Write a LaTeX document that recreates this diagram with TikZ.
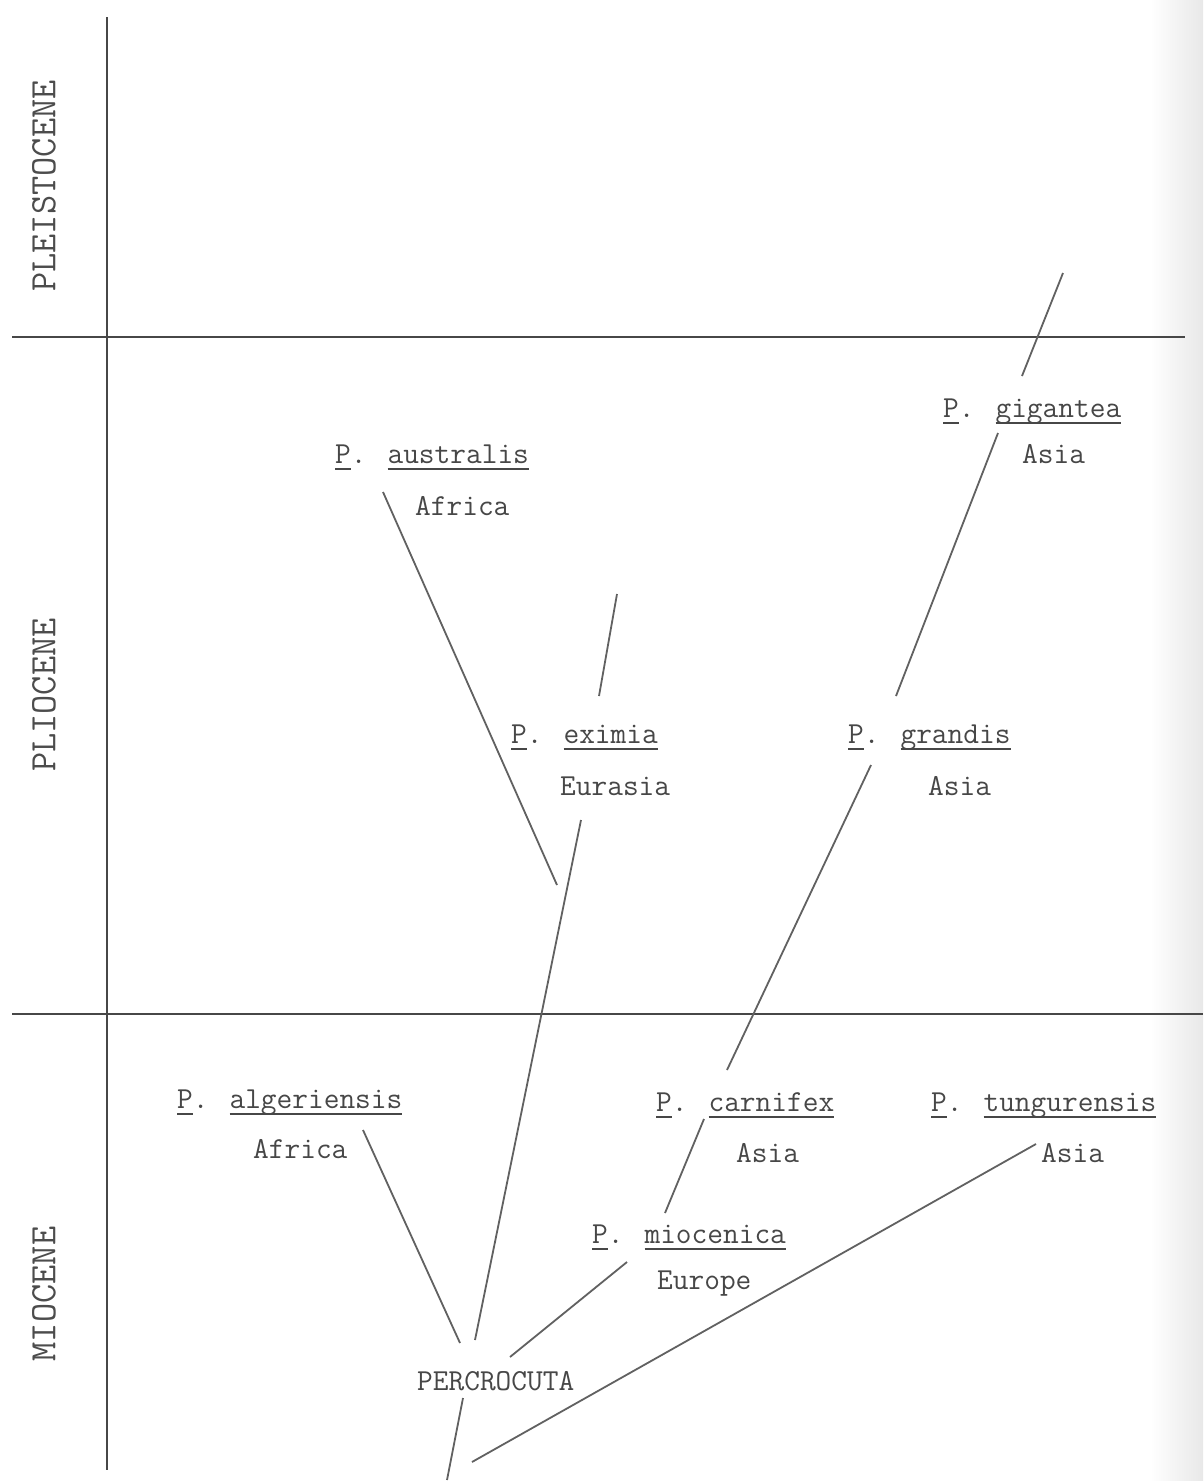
\documentclass[tikz,border=0pt]{standalone}
\usetikzlibrary{calc}
\newcommand\tul[1]{\setbox0=\hbox{#1}\rlap{\rule[-6.5pt]{\wd0}{1.6pt}}\box0}
\tikzset{
  lbl/.style={anchor=base west, inner sep=0pt, text=black!72, font=\ttfamily\fontsize{30.5}{36}\selectfont},
  era/.style={rotate=90, inner sep=0pt, text=black!70, font=\ttfamily\fontsize{37.3}{40}\selectfont},
  gridline/.style={draw=black!72, line width=1.7pt},
  brline/.style={draw=black!62, line width=1.8pt},
}
\begin{document}
\begin{tikzpicture}[x=1pt,y=-1pt]
\useasboundingbox (0,0) rectangle (1203,1481);
\fill[white] (0,0) rectangle (1203,1481);
\shade[left color=white, right color=black!9] (1150,0) rectangle (1203,1481);

% axes and epoch boundaries
\coordinate (axT) at (107,17);
\coordinate (axB) at (107,1470);
\coordinate (h1L) at (12,337);
\coordinate (h1R) at (1185,337);
\coordinate (h2L) at (12,1014);
\coordinate (h2R) at (1203,1014);
\draw[gridline] (axT) -- (axB);
\draw[gridline] (h1L) -- (h1R);
\draw[gridline] (h2L) -- (h2R);

% epoch labels
\node[era] (pleis) at (44,186) {PLEISTOCENE};
\node[era] (plio) at (44,695) {PLIOCENE};
\node[era] (mio) at (44,1294) {MIOCENE};

% species labels
\node[lbl] (austN) at (335,463) {\tul{P}. \tul{australis}};
\node[lbl] (austR) at (415,515) {Africa};
\node[lbl] (gigN) at (943,417) {\tul{P}. \tul{gigantea}};
\node[lbl] (gigR) at (1022,463) {Asia};
\node[lbl] (exN) at (511,743) {\tul{P}. \tul{eximia}};
\node[lbl] (exR) at (560,795) {Eurasia};
\node[lbl] (grN) at (848,743) {\tul{P}. \tul{grandis}};
\node[lbl] (grR) at (928,795) {Asia};
\node[lbl] (algN) at (177,1108) {\tul{P}. \tul{algeriensis}};
\node[lbl] (algR) at (253,1158) {Africa};
\node[lbl] (carN) at (656,1111) {\tul{P}. \tul{carnifex}};
\node[lbl] (carR) at (736,1162) {Asia};
\node[lbl] (tunN) at (931,1111) {\tul{P}. \tul{tungurensis}};
\node[lbl] (tunR) at (1041,1162) {Asia};
\node[lbl] (mioN) at (592,1243) {\tul{P}. \tul{miocenica}};
\node[lbl] (mioR) at (657,1289) {Europe};
\node[lbl] (perc) at (417,1390) {PERCROCUTA};

% branch end points
\coordinate (gigTop) at (1063,273);
\coordinate (gigBot) at (1022,376);
\coordinate (gig2Top) at (998,433);
\coordinate (gig2Bot) at (896,696);
\coordinate (grTop) at (871,765);
\coordinate (grBot) at (727,1070);
\coordinate (carTop) at (704,1119);
\coordinate (carBot) at (665,1213);
\coordinate (mioTop) at (627,1262);
\coordinate (mioBot) at (510,1357);
\coordinate (tunTop) at (1036,1144);
\coordinate (tunBot) at (472,1462);
\coordinate (algTop) at (363,1130);
\coordinate (algBot) at (460,1343);
\coordinate (exUpTop) at (617,594);
\coordinate (exUpBot) at (599,696);
\coordinate (exTop) at (581,820);
\coordinate (exBot) at (475,1340);
\coordinate (austTop) at (383,492);
\coordinate (austBot) at (557,885);
\coordinate (rootTop) at (463,1398);
\coordinate (rootBot) at (447,1480);

\draw[brline] (gigTop) -- (gigBot);
\draw[brline] (gig2Top) -- (gig2Bot);
\draw[brline] (grTop) -- (grBot);
\draw[brline] (carTop) -- (carBot);
\draw[brline] (mioTop) -- (mioBot);
\draw[brline] (tunTop) -- (tunBot);
\draw[brline] (algTop) -- (algBot);
\draw[brline] (exUpTop) -- (exUpBot);
\draw[brline] (exTop) -- (exBot);
\draw[brline] (austTop) -- (austBot);
\draw[brline] (rootTop) -- (rootBot);
\end{tikzpicture}
\end{document}
